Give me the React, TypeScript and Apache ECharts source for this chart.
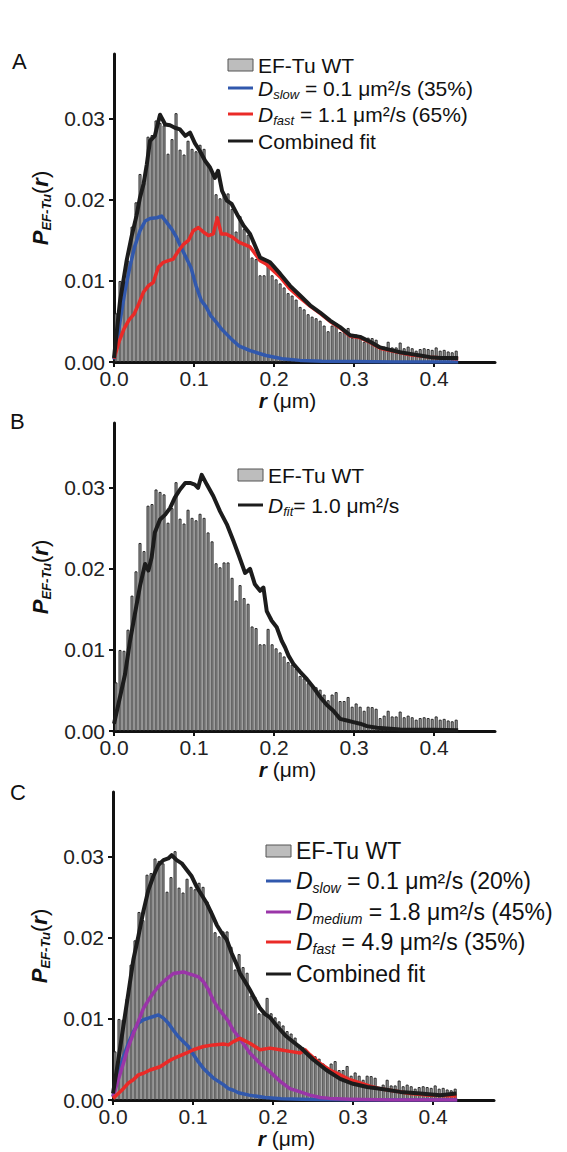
import { useEffect, useRef } from 'react';
import * as echarts from 'echarts';

const FONT = '"Liberation Sans", Arial, Helvetica, sans-serif';

// Histogram of EF-Tu WT displacements, bin width 0.005 µm, values in units of 1e-3
const BIN_WIDTH = 0.005;
const histPermille = [
  6.0, 10.0, 9.9, 12.5, 16.7, 19.7, 23.2, 22.2, 27.8, 28.0,
  29.8, 29.5, 29.2, 25.7, 27.5, 30.7, 26.2, 25.6, 27.3, 26.3,
  26.0, 26.8, 26.3, 24.5, 23.4, 20.7, 20.2, 20.8, 20.8, 18.9,
  16.1, 18.0, 16.4, 15.7, 12.9, 12.7, 10.7, 10.7, 12.6, 10.7,
  10.2, 9.7, 9.2, 8.5, 8.2, 7.7, 6.8, 6.5, 5.9, 5.6,
  5.4, 5.1, 4.5, 3.8, 4.5, 4.8, 3.7, 3.7, 4.2, 3.0,
  3.4, 3.0, 2.5, 3.0, 2.95, 2.75, 1.6, 1.9, 2.5, 1.8,
  1.8, 2.4, 1.7, 1.9, 1.7, 1.4, 1.6, 1.7, 1.6, 1.5,
  1.8, 1.4, 1.5, 1.3, 1.2, 1.4,
];
const binCenters = histPermille.map((_, i) => +(BIN_WIDTH * (i + 0.5)).toFixed(4));

const xTicks = [0, 0.1, 0.2, 0.3, 0.4];
const yTicks = [0, 0.01, 0.02, 0.03];

// Panel A (values: [r in µm, P in 1e-3])
const aCombined: [number, number][] = [
  [0, 0.5], [0.0075, 7.5], [0.0158, 12.5], [0.022, 15.5], [0.028, 18.0], [0.0325, 20.3],
  [0.037, 22.0], [0.041, 24.4], [0.045, 27.3], [0.051, 27.9], [0.0575, 30.5], [0.064, 29.3],
  [0.07, 29.2], [0.076, 28.9], [0.0825, 28.7], [0.089, 27.9], [0.095, 28.3], [0.101, 27.0],
  [0.1075, 26.0], [0.114, 24.8], [0.12, 24.0], [0.126, 22.7], [0.13, 23.6], [0.135, 21.1],
  [0.141, 19.9], [0.147, 19.5], [0.155, 18.0], [0.162, 16.8], [0.17, 15.8], [0.1825, 12.9],
  [0.195, 12.3], [0.2075, 10.9], [0.22, 9.4], [0.2325, 8.2], [0.245, 7.0], [0.2575, 6.1],
  [0.27, 5.1], [0.2825, 4.3], [0.295, 3.3], [0.3075, 3.1], [0.32, 2.5], [0.3325, 1.8],
  [0.345, 1.5], [0.3575, 1.2], [0.37, 1.0], [0.3825, 0.8], [0.395, 0.6], [0.4075, 0.5],
  [0.42, 0.5], [0.43, 0.5],
];
const aSlow: [number, number][] = [
  [0, 0.3], [0.0075, 5.0], [0.0138, 8.8], [0.02, 11.8], [0.026, 14.3], [0.0325, 16.2],
  [0.039, 17.4], [0.045, 17.7], [0.0533, 17.8], [0.0596, 18.0], [0.066, 17.2], [0.0721, 16.4],
  [0.078, 15.4], [0.084, 14.1], [0.09, 12.9], [0.096, 11.7], [0.1025, 9.4], [0.109, 7.6],
  [0.115, 6.8], [0.121, 5.7], [0.128, 4.9], [0.134, 4.1], [0.14, 3.5], [0.148, 2.7],
  [0.156, 2.0], [0.17, 1.4], [0.19, 0.8], [0.21, 0.4], [0.2325, 0.2], [0.26, 0.1],
  [0.3, 0.05], [0.35, 0], [0.43, 0],
];
const aFast: [number, number][] = [
  [0, 0.4], [0.0063, 2.5], [0.0125, 4.1], [0.0188, 5.2], [0.025, 5.9], [0.031, 7.2],
  [0.0367, 8.6], [0.043, 9.4], [0.049, 9.8], [0.0554, 11.7], [0.0617, 12.3], [0.068, 12.5],
  [0.074, 12.7], [0.0804, 13.7], [0.0867, 14.5], [0.093, 15.0], [0.099, 16.2], [0.1054, 16.6],
  [0.112, 16.0], [0.118, 15.6], [0.124, 15.8], [0.129, 17.8], [0.134, 15.8], [0.14, 15.8],
  [0.148, 15.4], [0.156, 14.8], [0.17, 14.2], [0.1825, 12.5], [0.19, 12.1], [0.2075, 10.5],
  [0.22, 9.0], [0.2325, 7.9], [0.245, 6.9], [0.2575, 6.0], [0.27, 5.0], [0.2825, 4.2],
  [0.295, 3.2], [0.3075, 3.0], [0.32, 2.4], [0.3325, 1.7], [0.345, 1.4], [0.37, 0.9],
  [0.395, 0.6], [0.43, 0.4],
];

// Panel B
const bFit: [number, number][] = [
  [0, 0.9], [0.0075, 4.2], [0.0138, 7.0], [0.02, 11.1], [0.026, 14.4], [0.0325, 17.9],
  [0.0388, 20.6], [0.043, 19.8], [0.047, 21.4], [0.051, 24.5], [0.0575, 26.1], [0.064, 26.7],
  [0.07, 27.5], [0.076, 28.8], [0.0825, 29.8], [0.089, 30.6], [0.095, 30.6], [0.101, 30.4],
  [0.105, 30.0], [0.1096, 31.6], [0.116, 30.4], [0.124, 29.0], [0.1325, 27.1], [0.141, 25.5],
  [0.149, 23.5], [0.1554, 21.8], [0.1638, 19.5], [0.17, 20.0], [0.176, 18.1], [0.1825, 17.3],
  [0.1867, 17.7], [0.1908, 14.8], [0.197, 13.6], [0.2033, 12.8], [0.2096, 11.1], [0.2138, 10.3],
  [0.218, 9.3], [0.224, 8.3], [0.2325, 7.3], [0.241, 6.4], [0.249, 5.4], [0.2575, 4.2],
  [0.266, 3.2], [0.274, 2.5], [0.2825, 1.5], [0.291, 1.3], [0.299, 1.1], [0.3075, 0.9],
  [0.316, 0.6], [0.3285, 0.4], [0.341, 0.3], [0.3575, 0.2], [0.38, 0.15], [0.4, 0.15],
  [0.43, 0.1],
];

// Panel C
const cCombined: [number, number][] = [
  [0, 0.8], [0.0066, 4.9], [0.0129, 9.1], [0.0192, 13.2], [0.0254, 17.3], [0.0317, 20.2],
  [0.038, 23.3], [0.0442, 25.9], [0.0504, 27.6], [0.0567, 29.0], [0.063, 29.6], [0.069, 29.8],
  [0.0733, 30.2], [0.0796, 29.6], [0.0858, 29.2], [0.092, 28.4], [0.0983, 27.6], [0.1046, 26.3],
  [0.1108, 25.3], [0.117, 24.3], [0.1233, 23.0], [0.1296, 21.6], [0.1358, 20.6], [0.142, 19.8],
  [0.1483, 18.1], [0.1546, 16.7], [0.1588, 15.6], [0.165, 14.6], [0.171, 13.6], [0.1775, 12.4],
  [0.1838, 11.3], [0.19, 10.6], [0.196, 10.2], [0.2025, 9.4], [0.2088, 8.7], [0.215, 8.0],
  [0.221, 7.5], [0.2338, 6.5], [0.25, 5.0], [0.2665, 3.7], [0.2838, 2.6], [0.3, 2.0],
  [0.3175, 1.6], [0.3338, 1.4], [0.3588, 1.0], [0.3838, 0.8], [0.4088, 0.6], [0.42, 0.7],
  [0.429, 0.8],
];
const cSlow: [number, number][] = [
  [0, 0.4], [0.0066, 3.3], [0.0129, 5.3], [0.0192, 7.0], [0.0254, 8.4], [0.0317, 9.5],
  [0.038, 9.9], [0.0442, 10.1], [0.0504, 10.3], [0.0567, 10.5], [0.063, 10.1], [0.069, 9.5],
  [0.0754, 8.6], [0.0817, 7.8], [0.088, 7.2], [0.0942, 6.6], [0.1004, 5.6], [0.1067, 4.7],
  [0.113, 3.9], [0.1192, 3.3], [0.1254, 2.7], [0.1317, 2.3], [0.138, 1.9], [0.1442, 1.4],
  [0.1504, 1.2], [0.1567, 0.9], [0.17, 0.6], [0.19, 0.3], [0.21, 0.15], [0.25, 0.05],
  [0.3, 0], [0.43, 0],
];
const cMedium: [number, number][] = [
  [0, 0.4], [0.0066, 2.5], [0.0129, 4.5], [0.0192, 6.6], [0.0254, 8.2], [0.0317, 9.7],
  [0.038, 11.3], [0.0442, 12.3], [0.0504, 13.2], [0.0567, 14.0], [0.063, 14.6], [0.069, 15.1],
  [0.0754, 15.6], [0.0817, 15.7], [0.088, 15.8], [0.0942, 15.6], [0.1004, 15.4], [0.1067, 15.2],
  [0.113, 14.6], [0.1192, 13.6], [0.1254, 12.3], [0.1317, 11.3], [0.138, 10.5], [0.1442, 9.7],
  [0.1504, 8.6], [0.1567, 7.8], [0.171, 5.8], [0.1838, 4.5], [0.196, 3.5], [0.2088, 2.3],
  [0.221, 1.4], [0.2338, 1.0], [0.246, 0.6], [0.2588, 0.3], [0.271, 0.2], [0.296, 0.1],
  [0.35, 0], [0.43, 0],
];
const cFast: [number, number][] = [
  [0, 0.2], [0.0066, 0.8], [0.0129, 1.4], [0.0192, 2.1], [0.0254, 2.5], [0.0317, 3.1],
  [0.038, 3.3], [0.0463, 3.7], [0.0588, 4.1], [0.065, 4.5], [0.0713, 4.9], [0.0796, 5.3],
  [0.092, 5.8], [0.1004, 6.2], [0.113, 6.6], [0.1254, 6.8], [0.138, 6.9], [0.1442, 6.8],
  [0.1504, 7.2], [0.1588, 7.6], [0.171, 7.0], [0.1838, 6.2], [0.196, 6.4], [0.2088, 6.2],
  [0.221, 6.0], [0.2338, 5.8], [0.24, 6.2], [0.246, 5.6], [0.2588, 4.5], [0.271, 3.7],
  [0.2838, 3.1], [0.296, 2.5], [0.3088, 2.1], [0.321, 1.7], [0.3338, 1.4], [0.346, 1.2],
  [0.371, 0.8], [0.396, 0.6], [0.429, 0.5],
];

const COLORS = { black: '#1c1c1c', blue: '#3158ad', red: '#ea2a27', purple: '#9a35a8', bar: '#b0b0b0', barEdge: '#262626' };

const toP = (arr: [number, number][]) => arr.map(([r, v]) => [r, v / 1000]);

const GRIDS = [
  { left: 114, top: 54, width: 381, height: 308 },
  { left: 114, top: 423, width: 381, height: 308 },
  { left: 113, top: 792, width: 381, height: 308 },
];

const makeRich = (size: number) => ({
  i: { fontStyle: 'italic', fontSize: size, fontFamily: FONT, lineHeight: size + 4, fill: '#111' },
  sub: { fontStyle: 'italic', fontSize: Math.round(size * 0.62), fontFamily: FONT, lineHeight: 4, verticalAlign: 'bottom', fill: '#111' },
  n: { fontSize: size, fontFamily: FONT, lineHeight: size + 4, fill: '#111' },
});

type Row = { y: number; kind: 'bar' | 'line'; color?: string; text: string };

function legendGraphics(x0: number, size: number, rows: Row[]) {
  const els: any[] = [];
  const rich = makeRich(size);
  rows.forEach((row) => {
    if (row.kind === 'bar') {
      els.push({
        type: 'rect',
        shape: { x: x0, y: row.y - 6, width: 25, height: 12 },
        style: { fill: '#bdbdbd', stroke: '#555', lineWidth: 1 },
      });
    } else {
      els.push({
        type: 'line',
        shape: { x1: x0, y1: row.y, x2: x0 + 25, y2: row.y },
        style: { stroke: row.color, lineWidth: 3 },
      });
    }
    els.push({
      type: 'text',
      x: x0 + 30,
      y: row.y,
      style: {
        text: row.text,
        rich,
        verticalAlign: 'middle',
        align: 'left',
        fontFamily: FONT,
        fontSize: size,
        fill: '#111',
      },
    });
  });
  return els;
}

export default function App() {
  const ref = useRef<HTMLDivElement>(null);

  useEffect(() => {
    if (!ref.current) return;
    const chart = echarts.init(ref.current, null, { renderer: 'svg' });

    const xAxes = GRIDS.map((_, i) => ({
      type: 'value',
      gridIndex: i,
      min: 0,
      max: 0.476,
      interval: 0.1,
      splitLine: { show: false },
      axisLine: { show: true, onZero: false, lineStyle: { color: '#111', width: 3 } },
      axisTick: { show: true, length: 5, customValues: xTicks, lineStyle: { color: '#111', width: 2 } },
      axisLabel: {
        customValues: xTicks,
        formatter: (v: number) => v.toFixed(1),
        fontSize: 21,
        fontFamily: FONT,
        color: '#222',
        margin: 6,
      },
      name: '{r|r}{n| (μm)}',
      nameLocation: 'middle',
      nameGap: 26,
      nameTextStyle: {
        padding: [0, 34, 0, 0],
        rich: {
          r: { fontStyle: 'italic', fontWeight: 'bold', fontSize: 21, fontFamily: FONT, color: '#111', lineHeight: 24 },
          n: { fontSize: 21, fontFamily: FONT, color: '#111', lineHeight: 24 },
        },
      },
    }));

    const yAxes = GRIDS.map((_, i) => ({
      type: 'value',
      gridIndex: i,
      min: 0,
      max: 0.038,
      interval: 0.01,
      splitLine: { show: false },
      axisLine: { show: true, onZero: false, lineStyle: { color: '#111', width: 3 } },
      axisTick: { show: true, length: 5, customValues: yTicks, lineStyle: { color: '#111', width: 2 } },
      axisLabel: {
        customValues: yTicks,
        formatter: (v: number) => v.toFixed(2),
        fontSize: 21,
        fontFamily: FONT,
        color: '#222',
        margin: 9,
      },
      name: '{p|P}{s|EF-Tu}{n|(}{r|r}{n|)}',
      nameLocation: 'middle',
      nameRotate: 90,
      nameGap: 58,
      nameTextStyle: {
        rich: {
          p: { fontStyle: 'italic', fontWeight: 'bold', fontSize: 22, fontFamily: FONT, color: '#111', lineHeight: 26 },
          s: { fontStyle: 'italic', fontWeight: 'bold', fontSize: 13, fontFamily: FONT, color: '#111', lineHeight: 6, verticalAlign: 'bottom' },
          n: { fontSize: 22, fontFamily: FONT, color: '#111', lineHeight: 26 },
          r: { fontStyle: 'italic', fontWeight: 'bold', fontSize: 22, fontFamily: FONT, color: '#111', lineHeight: 26 },
        },
      },
    }));

    const histData = binCenters.map((r, i) => [r, histPermille[i] / 1000]);

    const barSeries = (i: number) => ({
      type: 'bar',
      name: 'EF-Tu WT',
      xAxisIndex: i,
      yAxisIndex: i,
      data: histData,
      barWidth: 3,
      itemStyle: { color: COLORS.bar, borderColor: COLORS.barEdge, borderWidth: 1 },
      silent: true,
      z: 1,
    });

    const lineSeries = (i: number, name: string, data: [number, number][], color: string, width: number, z: number) => ({
      type: 'line',
      name,
      xAxisIndex: i,
      yAxisIndex: i,
      data: toP(data),
      showSymbol: false,
      symbol: 'none',
      lineStyle: { color, width, join: 'round' },
      silent: true,
      z,
    });

    const graphics = [
      { type: 'text', x: 12, y: 50, style: { text: 'A', fontSize: 22, fontFamily: FONT, fill: '#111' } },
      { type: 'text', x: 10, y: 410, style: { text: 'B', fontSize: 22, fontFamily: FONT, fill: '#111' } },
      { type: 'text', x: 10, y: 781, style: { text: 'C', fontSize: 22, fontFamily: FONT, fill: '#111' } },
      ...legendGraphics(228, 21, [
        { y: 65, kind: 'bar', text: '{n|EF-Tu WT}' },
        { y: 88, kind: 'line', color: COLORS.blue, text: '{i|D}{sub|slow}{n| = 0.1 μm²/s (35%)}' },
        { y: 114, kind: 'line', color: COLORS.red, text: '{i|D}{sub|fast}{n| = 1.1 μm²/s (65%)}' },
        { y: 141, kind: 'line', color: COLORS.black, text: '{n|Combined fit}' },
      ]),
      ...legendGraphics(238, 21, [
        { y: 475, kind: 'bar', text: '{n|EF-Tu WT}' },
        { y: 505, kind: 'line', color: COLORS.black, text: '{i|D}{sub|fit}{n|= 1.0 μm²/s}' },
      ]),
      ...legendGraphics(266, 23, [
        { y: 851, kind: 'bar', text: '{n|EF-Tu WT}' },
        { y: 881, kind: 'line', color: COLORS.blue, text: '{i|D}{sub|slow}{n| = 0.1 μm²/s (20%)}' },
        { y: 912, kind: 'line', color: COLORS.purple, text: '{i|D}{sub|medium}{n| = 1.8 μm²/s (45%)}' },
        { y: 942, kind: 'line', color: COLORS.red, text: '{i|D}{sub|fast}{n| = 4.9 μm²/s (35%)}' },
        { y: 974, kind: 'line', color: COLORS.black, text: '{n|Combined fit}' },
      ]),
    ];

    chart.setOption({
      animation: false,
      backgroundColor: '#ffffff',
      grid: GRIDS.map((g) => ({ ...g, containLabel: false })),
      xAxis: xAxes,
      yAxis: yAxes,
      series: [
        barSeries(0),
        lineSeries(0, 'D slow', aSlow, COLORS.blue, 3.5, 3),
        lineSeries(0, 'D fast', aFast, COLORS.red, 3.5, 4),
        lineSeries(0, 'Combined fit', aCombined, COLORS.black, 4, 5),
        barSeries(1),
        lineSeries(1, 'D fit', bFit, COLORS.black, 4, 5),
        barSeries(2),
        lineSeries(2, 'D slow', cSlow, COLORS.blue, 3.5, 3),
        lineSeries(2, 'D medium', cMedium, COLORS.purple, 3.5, 3),
        lineSeries(2, 'D fast', cFast, COLORS.red, 3.5, 4),
        lineSeries(2, 'Combined fit', cCombined, COLORS.black, 4, 5),
      ],
      graphic: graphics,
    } as any);

    return () => chart.dispose();
  }, []);

  return (
    <div
      ref={ref}
      style={{ position: 'absolute', left: 0, top: 0, width: 567, height: 1152, background: '#fff' }}
    />
  );
}
